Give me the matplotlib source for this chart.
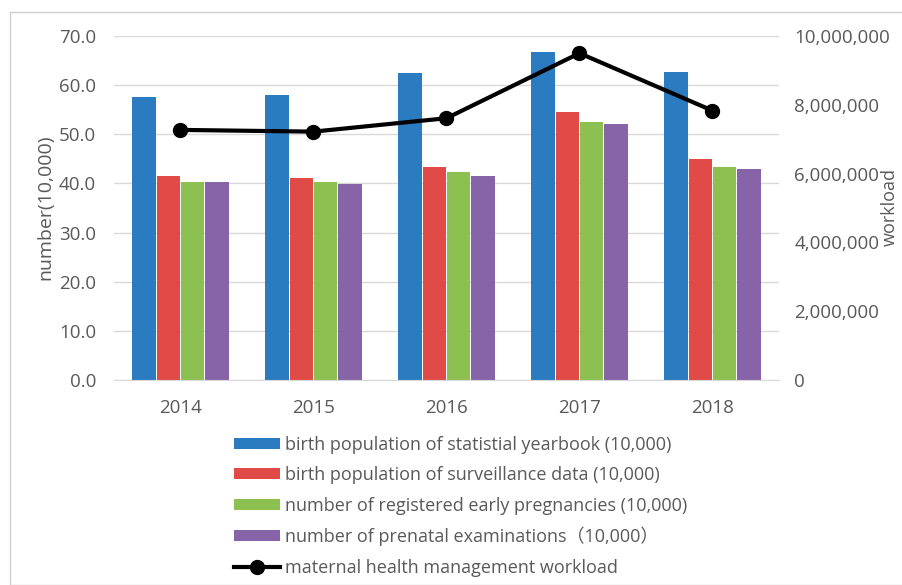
import numpy as np
import matplotlib.pyplot as plt
from matplotlib.patches import Rectangle
from matplotlib.ticker import FuncFormatter

years = ['2014', '2015', '2016', '2017', '2018']
yearbook = [57.6, 57.9, 62.4, 66.7, 62.6]
surveillance = [41.6, 41.2, 43.3, 54.5, 45.0]
early_preg = [40.2, 40.2, 42.3, 52.4, 43.3]
prenatal = [40.2, 39.9, 41.6, 52.1, 42.9]
workload = [7270000, 7220000, 7610000, 9500000, 7830000]

labels = ['birth population of statistial yearbook (10,000)',
          'birth population of surveillance data (10,000)',
          'number of registered early pregnancies (10,000)',
          'number of prenatal examinations\uff0810,000\uff09',
          'maternal health management workload']
colors = ['#2b7bc1', '#e04a47', '#8cc152', '#8764a8']

plt.rcParams['font.family'] = ['Open Sans', 'Noto Sans CJK SC', 'DejaVu Sans']
grey = '#595959'
fs = 13.5

fig = plt.figure(figsize=(9.03, 5.85), dpi=100)
fig.patches.append(Rectangle((10 / 903, 0.0), 1.0, 1 - 12 / 585, transform=fig.transFigure,
                             fill=False, edgecolor='#d0d0d0', linewidth=1))
ax = fig.add_axes([114 / 903, 1 - 380 / 585, 665 / 903, 344 / 585])

x = np.arange(len(years))
w = 0.1825
series = [yearbook, surveillance, early_preg, prenatal]
handles = []
for i, (vals, c) in enumerate(zip(series, colors)):
    h = ax.bar(x + (i - 1.5) * w, vals, width=w * 0.97, color=c, label=labels[i], zorder=2)
    handles.append(h)

ax.set_ylim(0, 70)
ax.set_yticks(np.arange(0, 71, 10))
ax.yaxis.set_major_formatter(FuncFormatter(lambda v, p: f'{v:.1f}'))
ax.set_xlim(-0.5, 4.5)
ax.set_xticks(x)
ax.set_xticklabels(years)
ax.grid(axis='y', color='#d9d9d9', linewidth=1, zorder=0)
for s in ['top', 'left', 'right']:
    ax.spines[s].set_visible(False)
ax.spines['bottom'].set_color('#d9d9d9')
ax.tick_params(axis='y', length=0, colors=grey, labelsize=fs, pad=13)
ax.tick_params(axis='x', length=0, colors=grey, labelsize=fs, pad=14)

ax2 = ax.twinx()
ln, = ax2.plot(x, workload, color='black', linewidth=3, marker='o', markersize=10,
               label=labels[4], zorder=3)
ax2.set_ylim(0, 10000000)
ax2.set_yticks(np.arange(0, 10000001, 2000000))
ax2.yaxis.set_major_formatter(FuncFormatter(lambda v, p: f'{int(v):,}'))
for s in ['top', 'left', 'right', 'bottom']:
    ax2.spines[s].set_visible(False)
ax2.tick_params(axis='y', length=0, colors=grey, labelsize=fs, pad=11)

fig.text(45 / 903, 1 - 207 / 585, 'number(10,000)', rotation=90, ha='center', va='center',
         color=grey, fontsize=14)
fig.text(890 / 903, 1 - 207 / 585, 'workload', rotation=90, ha='center', va='center',
         color=grey, fontsize=13)

fig.legend(handles + [ln], labels, loc='upper left', bbox_to_anchor=(234 / 903, 1 - 436 / 585),
           frameon=False, fontsize=13, labelcolor=grey, handlelength=2.55,
           handleheight=0.55, handletextpad=0.3, labelspacing=0.68, borderpad=0,
           borderaxespad=0)

fig.savefig('out.png', dpi=100)
